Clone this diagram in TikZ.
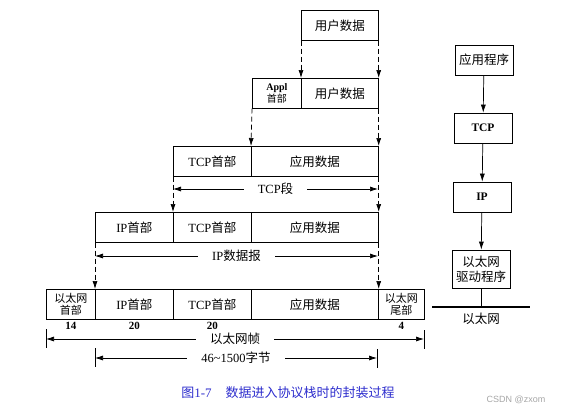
\documentclass[tikz,border=0pt]{standalone}
\usepackage{fontspec}
\setmainfont{Liberation Serif}
\newfontfamily\cjk{Noto Sans CJK SC}
\newfontfamily\wmfont{Liberation Sans}
\usetikzlibrary{arrows.meta}
\newcommand{\zh}[1]{{\cjk #1}}
\definecolor{capblue}{RGB}{45,45,205}

\begin{document}
\begin{tikzpicture}[x=1pt,y=-1pt,line width=0.7pt,
    cell/.style={draw,anchor=north west,minimum height=30pt,inner sep=0pt,font=\fontsize{12.5}{14}\selectfont},
    twoline/.style={align=center,font=\fontsize{11}{12.5}\selectfont},
    down/.style={dash pattern=on 5pt off 3pt,-{Latex[length=8pt,width=5pt]}},
    span/.style={{Latex[length=8pt,width=5pt]}-{Latex[length=8pt,width=5pt]}},
    gap/.style={fill=white,inner xsep=14pt,font=\fontsize{12.5}{14}\selectfont},
    num/.style={below=1pt,inner sep=1pt,font=\bfseries\fontsize{11}{12}\selectfont},
    stackbox/.style={draw,minimum width=58pt,minimum height=30pt,inner sep=1pt,align=center,font=\fontsize{12.5}{14}\selectfont}]
    \useasboundingbox (0,0) rectangle (562,415);

    % user data
    \node[cell,minimum width=77pt] (ud1) at (301,10) {\zh{用户数据}};

    % application header + user data
    \node[cell,minimum width=49pt,align=center,font=\fontsize{10}{11.5}\selectfont] (ah2) at (252,78) {\textbf{Appl}\\\zh{首部}};
    \node[cell,minimum width=77pt] (ud2) at (301,78) {\zh{用户数据}};

    % TCP segment
    \node[cell,minimum width=78pt] (th3) at (173,146) {TCP\zh{首部}};
    \node[cell,minimum width=127pt] (ad3) at (251,146) {\zh{应用数据}};

    % IP datagram
    \node[cell,minimum width=78pt] (ih4) at (95,212) {IP\zh{首部}};
    \node[cell,minimum width=78pt] (th4) at (173,212) {TCP\zh{首部}};
    \node[cell,minimum width=127pt] (ad4) at (251,212) {\zh{应用数据}};

    % Ethernet frame
    \node[cell,minimum width=49pt,twoline] (eh5) at (46,289) {\zh{以太网}\\\zh{首部}};
    \node[cell,minimum width=78pt] (ih5) at (95,289) {IP\zh{首部}};
    \node[cell,minimum width=78pt] (th5) at (173,289) {TCP\zh{首部}};
    \node[cell,minimum width=127pt] (ad5) at (251,289) {\zh{应用数据}};
    \node[cell,minimum width=46pt,twoline] (et5) at (378,289) {\zh{以太网}\\\zh{尾部}};

    % field sizes
    \node[num] (n14) at (eh5.south) {14};
    \node[num] (n20a) at (ih5.south) {20};
    \node[num] (n20b) at (th5.south) {20};
    \node[num] (n4) at (et5.south) {4};

    % dashed arrows between the layers
    \draw[down] (ud1.south west) -- (ud2.north west);
    \draw[down] (ud1.south east) -- (ud2.north east);
    \draw[down] (ah2.south west) -- (ad3.north west);
    \draw[down] (ud2.south east) -- (ad3.north east);
    \draw[down] (th3.south west) -- (th4.north west);
    \draw[down] (ad3.south east) -- (ad4.north east);
    \draw[down] (ih4.south west) -- (ih5.north west);
    \draw[down] (ad4.south east) -- (ad5.north east);

    % lengths
    \coordinate (tcpL) at (173,189);
    \coordinate (tcpR) at (378,189);
    \draw[span] (tcpL) -- (tcpR) node[gap,midway] (tcpseg) {TCP\zh{段}};

    \coordinate (ipL) at (95,256);
    \coordinate (ipR) at (378,256);
    \draw[span] (ipL) -- (ipR) node[gap,midway] (ipdg) {IP\zh{数据报}};

    \coordinate (frL) at (46,339);
    \coordinate (frR) at (424,339);
    \draw[span] (frL) -- (frR) node[gap,midway] (frame) {\zh{以太网帧}};
    \draw (46,329) -- (46,348);
    \draw (424,330) -- (424,349);

    \coordinate (plL) at (95,358);
    \coordinate (plR) at (377,358);
    \draw[span] (plL) -- (plR) node[gap,midway] (payload) {46\textasciitilde 1500\zh{字节}};
    \draw (95,348) -- (95,367);
    \draw (377,349) -- (377,368);

    % protocol stack
    \node[stackbox] (sapp) at (484,60) {\zh{应用程序}};
    \node[stackbox,font=\bfseries\fontsize{11.5}{13}\selectfont] (stcp) at (483,128) {TCP};
    \node[stackbox,font=\bfseries\fontsize{11.5}{13}\selectfont] (sip) at (482,197) {IP};
    \node[stackbox,minimum height=38pt,font=\fontsize{12.5}{15}\selectfont] (sdrv) at (481,269) {\zh{以太网}\\\zh{驱动程序}};
    \draw[-{Latex[length=8pt,width=5pt]}] (sapp) -- (stcp);
    \draw[-{Latex[length=8pt,width=5pt]}] (stcp) -- (sip);
    \draw[-{Latex[length=8pt,width=5pt]}] (sip) -- (sdrv);

    % Ethernet cable
    \coordinate (busL) at (432,307);
    \coordinate (busR) at (530,307);
    \draw[line width=1.8pt] (busL) -- (busR);
    \draw (sdrv.south) -- (sdrv.south |- busL);
    \node[font=\fontsize{12.5}{14}\selectfont] (bus) at (481,319) {\zh{以太网}};

    % caption
    \node[text=capblue,font=\fontsize{13}{15}\selectfont] (cap) at (288,393) {\zh{图}1-7\hspace{14pt}\zh{数据进入协议栈时的封装过程}};
    \node[text=black!35,anchor=east,font=\wmfont\fontsize{9}{10}\selectfont] (wm) at (549,400) {CSDN @zxom};
\end{tikzpicture}
\end{document}
